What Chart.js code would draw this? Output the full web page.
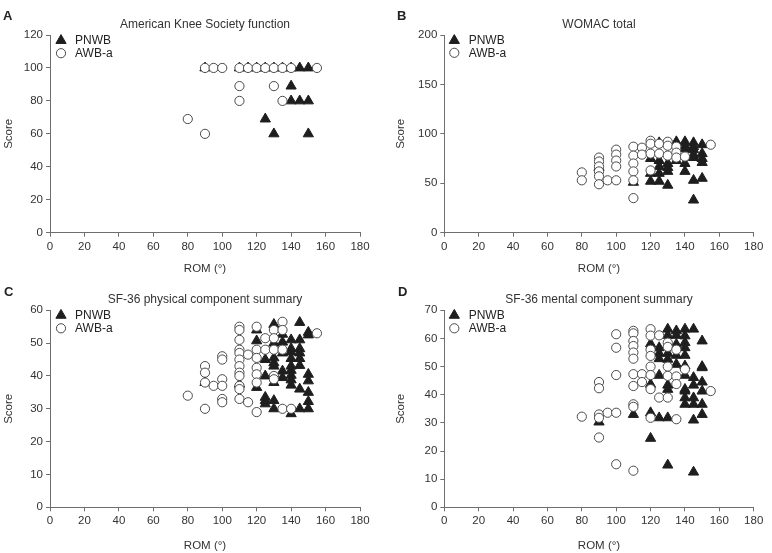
<!DOCTYPE html>
<html>
<head>
<meta charset="utf-8">
<script src="https://cdn.jsdelivr.net/npm/chart.js@4/dist/chart.umd.min.js"></script>
<style>
  html, body { margin: 0; padding: 0; background: #fff; }
  #wrap { position: relative; width: 772px; height: 553px; overflow: hidden; }
  canvas { position: absolute; }
  .lt { position: absolute; font: bold 13px "Liberation Sans", Arial, sans-serif; line-height: 13px; color: #222; }
</style>
</head>
<body>
<div id="wrap">
  <canvas id="cA" width="386" height="276" style="left:0;top:0"></canvas>
  <canvas id="cB" width="386" height="276" style="left:386px;top:0"></canvas>
  <canvas id="cC" width="386" height="277" style="left:0;top:276px"></canvas>
  <canvas id="cD" width="386" height="277" style="left:386px;top:276px"></canvas>
  <div class="lt" style="left:3px;top:9px">A</div>
  <div class="lt" style="left:397px;top:9px">B</div>
  <div class="lt" style="left:4px;top:285px">C</div>
  <div class="lt" style="left:398px;top:285px">D</div>
</div>
<script>
// ---------- data ----------
const seriesNames = ['PNWB', 'AWB-a'];
const xTicks = [0, 20, 40, 60, 80, 100, 120, 140, 160, 180];
const panelTitles = ['American Knee Society function', 'WOMAC total',
  'SF-36 physical component summary', 'SF-36 mental component summary'];
const yMaxes = [120, 200, 60, 70];
const ySteps = [20, 50, 10, 10];

const aksPnwb = [[90,100],[110,100],[115,100],[120,100],[125,100],[130,100],[135,100],[140,100],[145,100],[150,100],
  [140,89],[140,80],[145,80],[150,80],[125,69],[130,60],[150,60]];
const aksAwb = [[90,100],[95,100],[100,100],[110,100],[115,100],[120,100],[125,100],[130,100],[135,100],[140,100],[155,100],
  [110,89],[130,89],[110,80],[135,80],[80,69],[90,60]];

const womacPnwb = [[90,66],[110,51],[120,75],[120,60],[120,52],[125,91],[125,73],[125,67],[125,60],[125,52],
  [130,70],[130,66],[130,62],[130,48],[135,92],[135,73],[140,92],[140,88],[140,85],[140,70],[140,62],
  [145,91],[145,87],[145,84],[145,79],[145,76],[145,53],[145,33],[150,89],[150,80],[150,75],[150,71],[150,55]];
const womacAwb = [[80,61],[80,53],[90,76],[90,72],[90,67],[90,62],[90,57],[90,49],[95,53],
  [100,84],[100,79],[100,73],[100,67],[100,53],[110,87],[110,78],[110,70],[110,62],[110,53],[110,35],
  [115,86],[115,79],[120,93],[120,90],[120,80],[120,63],[125,90],[125,80],[130,92],[130,88],[130,78],
  [135,87],[135,81],[135,76],[140,77],[155,89]];

const pcsPnwb = [[90,38],[110,37.5],[120,54],[120,50.7],[120,36.5],[125,45],[125,40],[125,33.5],[125,32.5],[125,31.5],
  [130,55.7],[130,50],[130,45.5],[130,44],[130,43],[130,38],[130,32.5],[130,30],
  [135,52.7],[135,50.3],[135,47],[135,41.5],[135,39.5],
  [140,51],[140,48.3],[140,47.3],[140,45.3],[140,43],[140,41.7],[140,40.2],[140,38.8],[140,37.2],[140,28.5],
  [145,56.3],[145,51],[145,48.3],[145,47],[145,45.3],[145,43.2],[145,36],[145,30],
  [150,53.3],[150,52.5],[150,40.5],[150,38.5],[150,35],[150,32.2],[150,30]];
const pcsAwb = [[80,34],[90,43],[90,41],[90,38],[90,30],[95,37],[100,46],[100,45],[100,39],[100,37],[100,33],[100,32],
  [110,55],[110,54],[110,51],[110,48],[110,47],[110,45],[110,43],[110,41],[110,40],[110,37],[110,36],[110,33],
  [115,46.5],[115,32],[120,55],[120,48],[120,45.5],[120,42.5],[120,40.5],[120,38],[120,29],
  [125,51.5],[125,48],[130,54],[130,51.5],[130,48],[130,40],[130,39],
  [135,56.5],[135,54],[135,48],[135,30],[140,30],[155,53]];

const mcsPnwb = [[90,30.3],[110,33],[120,58.1],[120,43.7],[120,33.6],[120,24.5],
  [125,56.7],[125,54.7],[125,52.8],[125,46.9],[125,31.8],
  [130,63.3],[130,61.1],[130,54.7],[130,52.6],[130,43.4],[130,41.9],[130,31.8],[130,15],
  [135,62.7],[135,61.1],[135,57.9],[135,54],[135,50.8],
  [140,63.3],[140,60.9],[140,58.5],[140,56.7],[140,54],[140,50.2],[140,46.9],[140,41.9],[140,41.3],[140,38.9],[140,36.6],
  [145,63.3],[145,46.1],[145,43.4],[145,38.9],[145,36.6],[145,31],[145,12.5],
  [150,59.1],[150,50],[150,49.6],[150,44.5],[150,41.3],[150,36.6],[150,33]];
const mcsAwb = [[80,32.2],[90,44.5],[90,42.3],[90,33],[90,31.8],[90,24.8],[95,33.6],
  [100,61.5],[100,56.7],[100,47],[100,33.6],[100,15.3],
  [110,62.7],[110,61.8],[110,59.1],[110,57.3],[110,55],[110,52.8],[110,47.3],[110,43.1],[110,36.6],[110,35.7],[110,13],
  [115,47.3],[115,44.5],[120,63.3],[120,61],[120,56],[120,53.8],[120,50],[120,47],[120,42],[120,31.8],
  [125,61.1],[125,39],[130,58.5],[130,57],[130,50],[130,46.7],[130,39],
  [135,56],[135,46.5],[135,43.8],[135,31.3],[140,49],[155,41.3]];

// ---------- drawing ----------
const FONT = '"Liberation Sans", Arial, Helvetica, sans-serif';
const TRI_COLOR = '#1e1e1e';
const CIRC_BORDER = '#4a4a4a';
const AXIS_COLOR = '#6e6e6e';
const TEXT_COLOR = '#333';

function toPts(arr) { return arr.map(p => ({x: p[0], y: p[1]})); }

const insideLegend = {
  id: 'insideLegend',
  afterDraw(chart, args, opts) {
    const {ctx, chartArea} = chart;
    const ds = chart.data.datasets;
    const order = [1, 0]; // PNWB first, then AWB-a
    ctx.save();
    order.forEach((di, row) => {
      const d = ds[di];
      const cx = chartArea.left + opts.dx;
      const cy = chartArea.top + opts.dy + row * opts.rowGap;
      ctx.beginPath();
      if (d.pointStyle === 'triangle') {
        const r = d.pointRadius;
        for (let k = 0; k < 3; k++) {
          const a = k * 2 * Math.PI / 3;
          const px = cx + Math.sin(a) * r, py = cy - Math.cos(a) * r;
          if (k === 0) ctx.moveTo(px, py); else ctx.lineTo(px, py);
        }
        ctx.closePath();
      } else {
        ctx.arc(cx, cy, d.pointRadius, 0, Math.PI * 2);
      }
      ctx.fillStyle = d.backgroundColor;
      ctx.strokeStyle = d.borderColor;
      ctx.lineWidth = d.borderWidth;
      ctx.fill();
      ctx.stroke();
      ctx.fillStyle = '#222';
      ctx.font = '12px ' + FONT;
      ctx.textBaseline = 'middle';
      ctx.textAlign = 'left';
      ctx.fillText(d.label, chartArea.left + opts.tx, cy + 0.5);
    });
    ctx.restore();
  }
};

function makePanel(id, cfg) {
  const H = document.getElementById(id).height;
  new Chart(document.getElementById(id), {
    type: 'scatter',
    data: {
      datasets: [
        { label: seriesNames[1], data: toPts(cfg.awb), pointStyle: 'circle', pointRadius: 4.6,
          backgroundColor: '#ffffff', borderColor: CIRC_BORDER, borderWidth: 1, pointHoverRadius: 4.6 },
        { label: seriesNames[0], data: toPts(cfg.pnwb), pointStyle: 'triangle', pointRadius: 5.9,
          backgroundColor: TRI_COLOR, borderColor: TRI_COLOR, borderWidth: 1, pointHoverRadius: 5.9 }
      ]
    },
    options: {
      responsive: false,
      animation: false,
      events: [],
      layout: { padding: { left: cfg.padLeft, right: cfg.padRight, top: 0, bottom: 0 } },
      plugins: {
        legend: { display: false },
        tooltip: { enabled: false },
        title: {
          display: true, text: cfg.title, fullSize: false, color: TEXT_COLOR,
          font: { family: FONT, size: 12, weight: 'normal', lineHeight: 1.2 },
          padding: { top: cfg.titleTop, bottom: cfg.chartTop - cfg.titleTop - 14.4 }
        },
        insideLegend: cfg.legend
      },
      scales: {
        x: {
          type: 'linear', min: 0, max: 180,
          afterBuildTicks: s => { s.ticks = xTicks.map(v => ({value: v})); },
          afterFit: s => { s.height = H - cfg.chartBottom; },
          grid: { display: true, drawOnChartArea: false, drawTicks: true, tickLength: 4, color: AXIS_COLOR },
          border: { display: true, color: AXIS_COLOR, width: 1 },
          ticks: { color: TEXT_COLOR, font: { family: FONT, size: 11.5 }, padding: 3, maxRotation: 0 },
          title: { display: true, text: 'ROM (°)', color: TEXT_COLOR,
            font: { family: FONT, size: 11.5, lineHeight: 1.2 }, padding: { top: 0, bottom: cfg.xTitlePad } }
        },
        y: {
          type: 'linear', min: 0, max: cfg.yMax,
          ticks: { stepSize: cfg.yStep, color: TEXT_COLOR, font: { family: FONT, size: 11.5 }, padding: 3 },
          afterFit: s => { s.width = cfg.yWidth; },
          grid: { display: true, drawOnChartArea: false, drawTicks: true, tickLength: 4, color: AXIS_COLOR },
          border: { display: true, color: AXIS_COLOR, width: 1 },
          title: { display: true, text: 'Score', color: TEXT_COLOR,
            font: { family: FONT, size: 11.5, lineHeight: 1.2 }, padding: { top: cfg.yTitlePad, bottom: 0 } }
        }
      }
    },
    plugins: [insideLegend]
  });
}

makePanel('cA', { pnwb: aksPnwb, awb: aksAwb, title: panelTitles[0], yMax: yMaxes[0], yStep: ySteps[0],
  padLeft: 0, yWidth: 50, padRight: 26, chartTop: 35, chartBottom: 232.7, titleTop: 17,
  xTitlePad: 0, yTitlePad: 2,
  legend: { dx: 11, dy: 5.5, rowGap: 12.7, tx: 25 } });
makePanel('cB', { pnwb: womacPnwb, awb: womacAwb, title: panelTitles[1], yMax: yMaxes[1], yStep: ySteps[1],
  padLeft: 6, yWidth: 52.3, padRight: 18.3, chartTop: 35, chartBottom: 232.7, titleTop: 17.6,
  xTitlePad: 0, yTitlePad: 2,
  legend: { dx: 10, dy: 5.5, rowGap: 12.3, tx: 24.4 } });
makePanel('cC', { pnwb: pcsPnwb, awb: pcsAwb, title: panelTitles[2], yMax: yMaxes[2], yStep: ySteps[2],
  padLeft: 0, yWidth: 50, padRight: 26, chartTop: 34.3, chartBottom: 231.3, titleTop: 16.7,
  xTitlePad: 0.6, yTitlePad: 2,
  legend: { dx: 11, dy: 5, rowGap: 13, tx: 25 } });
makePanel('cD', { pnwb: mcsPnwb, awb: mcsAwb, title: panelTitles[3], yMax: yMaxes[3], yStep: ySteps[3],
  padLeft: 6, yWidth: 52.3, padRight: 18.3, chartTop: 34.3, chartBottom: 231.3, titleTop: 16.7,
  xTitlePad: 0.6, yTitlePad: 2,
  legend: { dx: 10, dy: 5, rowGap: 13, tx: 24.4 } });
</script>
</body>
</html>
